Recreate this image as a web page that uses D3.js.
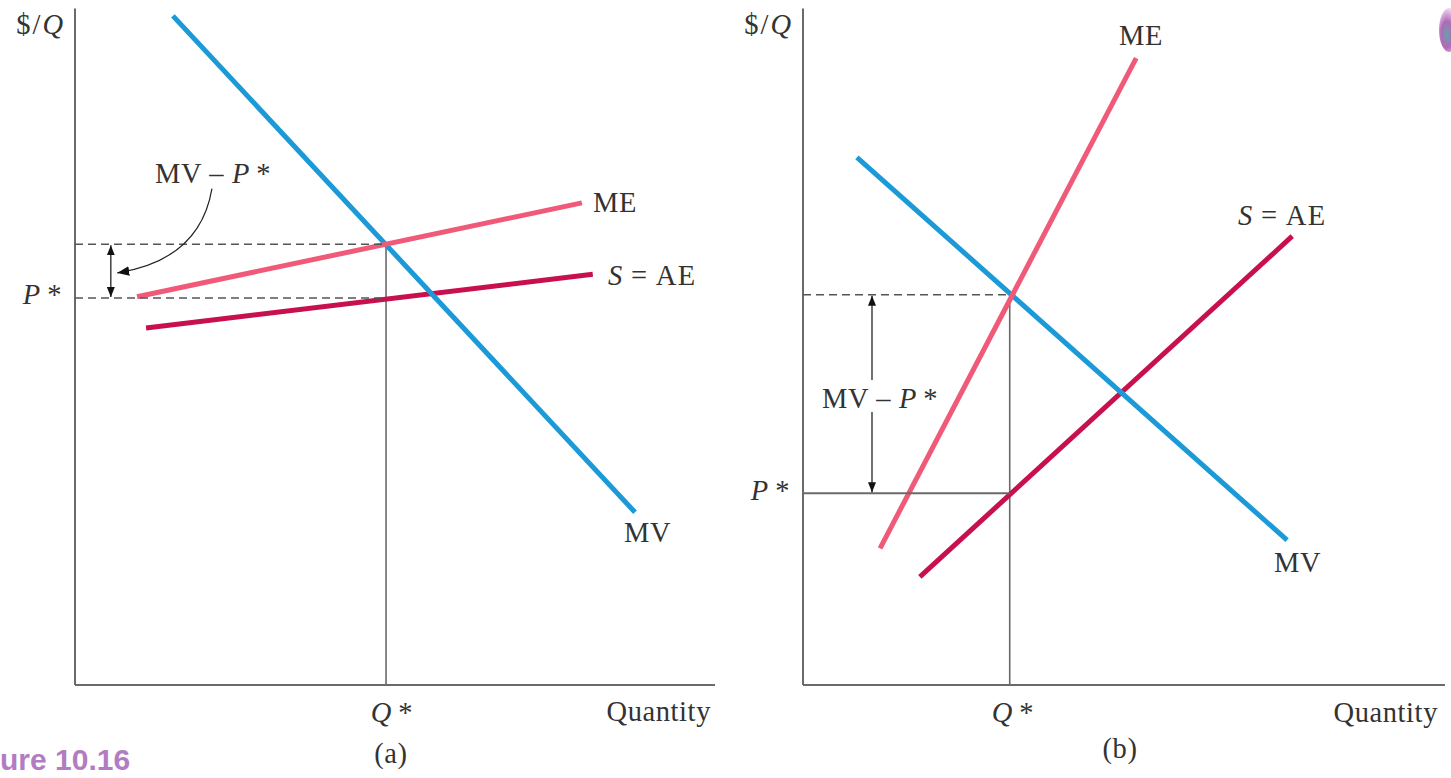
<!DOCTYPE html>
<html><head><meta charset="utf-8">
<script src="https://cdn.jsdelivr.net/npm/d3@7"></script>
<style>html,body{margin:0;padding:0;background:#fff;overflow:hidden}</style>
</head><body>
<svg id="c" width="1451" height="778"></svg>
<script>
// ---- data (axis units 0..100 in each panel) ----
const panelA_MV = [[15.3, 98.4], [87.5, 25.4]];
const panelA_ME = [[9.7, 57.1], [79.2, 70.9]];
const panelA_AE = [[11.1, 52.5], [80.9, 60.4]];
const panelA_Q = 48.6, panelA_MVatQ = 64.8, panelA_P = 56.9;

const panelB_MV = [[8.4, 77.6], [75.4, 21.3]];
const panelB_ME = [[12.0, 20.1], [51.9, 92.2]];
const panelB_AE = [[18.2, 15.9], [76.2, 66.0]];
const panelB_Q = 32.2, panelB_MVatQ = 57.4, panelB_P = 28.2;

const colMV = "#1b9ad7", colME = "#f05a78", colAE = "#c8104e";
const ink = "#333", axisCol = "#6a6a6a";
const font = "'Liberation Serif', 'Times New Roman', serif";

const svg = d3.select("#c");
const defs = svg.append("defs");
defs.append("marker").attr("id","ah").attr("viewBox","0 0 10 10").attr("refX",10).attr("refY",5)
  .attr("markerWidth",10).attr("markerHeight",10).attr("markerUnits","userSpaceOnUse").attr("orient","auto-start-reverse")
  .append("path").attr("d","M0,1 L10,5 L0,9 Z").attr("fill","#111");
defs.append("marker").attr("id","ah2").attr("viewBox","0 0 10 10").attr("refX",10).attr("refY",5)
  .attr("markerWidth",12).attr("markerHeight",12).attr("markerUnits","userSpaceOnUse").attr("orient","auto")
  .append("path").attr("d","M0,1 L10,5 L0,9 Z").attr("fill","#111");
const rg = defs.append("radialGradient").attr("id","blob").attr("cx","0.4").attr("cy","0.6").attr("r","0.6");
rg.append("stop").attr("offset","0").attr("stop-color","#6aa0a8");
rg.append("stop").attr("offset","0.5").attr("stop-color","#b06ab8");
rg.append("stop").attr("offset","1").attr("stop-color","#f0d8f0");

const yS = d3.scaleLinear().domain([0,100]).range([685, 5]);
const xA = d3.scaleLinear().domain([0,100]).range([75, 715]);
const xB = d3.scaleLinear().domain([0,100]).range([803, 1445]);

function txt(x, y, s, opts={}) {
  const t = svg.append("text").attr("x", x).attr("y", y)
    .attr("font-family", font).attr("font-size", opts.size || 28.5).attr("fill", ink)
    .attr("letter-spacing", opts.ls != null ? opts.ls : 0.6)
    .attr("text-anchor", opts.anchor || "start");
  if (Array.isArray(s)) s.forEach(p => t.append("tspan").attr("font-style", p[1] ? "italic" : "normal").text(p[0]));
  else t.text(s);
  return t;
}

function panel(x, d) {
  const g = svg.append("g");
  const line = d3.line().x(p => x(p[0])).y(p => yS(p[1]));
  g.append("line").attr("x1", x(0)).attr("x2", x(0)).attr("y1", yS(99.5)).attr("y2", yS(0)).attr("stroke", axisCol).attr("stroke-width", 2);
  g.append("line").attr("x1", x(0)).attr("x2", x(100)).attr("y1", yS(0)).attr("y2", yS(0)).attr("stroke", axisCol).attr("stroke-width", 2);
  g.append("line").attr("x1", x(d.Q)).attr("x2", x(d.Q)).attr("y1", yS(d.topQ)).attr("y2", yS(0)).attr("stroke", axisCol).attr("stroke-width", 1.6);
  [[d.AE, colAE],[d.MV, colMV],[d.ME, colME]].forEach(([pts, c]) =>
    g.append("path").attr("d", line(pts)).attr("stroke", c).attr("stroke-width", 5).attr("fill","none"));
  return g;
}

// ---- Panel (a) ----
const ga = panel(xA, {MV: panelA_MV, ME: panelA_ME, AE: panelA_AE, Q: panelA_Q, topQ: panelA_MVatQ});
ga.append("line").attr("x1", xA(0)).attr("x2", xA(panelA_Q)).attr("y1", yS(panelA_MVatQ)).attr("y2", yS(panelA_MVatQ))
  .attr("stroke", "#555").attr("stroke-width", 1.5).attr("stroke-dasharray", "8,5");
ga.append("line").attr("x1", xA(0)).attr("x2", xA(panelA_Q)).attr("y1", yS(panelA_P)).attr("y2", yS(panelA_P))
  .attr("stroke", "#555").attr("stroke-width", 1.5).attr("stroke-dasharray", "8,5");
ga.append("line").attr("x1", xA(5.6)).attr("x2", xA(5.6)).attr("y1", yS(panelA_MVatQ)+1).attr("y2", yS(panelA_P)-1)
  .attr("stroke", "#111").attr("stroke-width", 1.2).attr("marker-start","url(#ah)").attr("marker-end","url(#ah)");
ga.append("path").attr("d", `M${xA(21.4)},${yS(73.0)} Q${xA(19.5)},${yS(62.5)} ${xA(6.6)},${yS(60.6)}`)
  .attr("stroke","#222").attr("stroke-width",1.2).attr("fill","none").attr("marker-end","url(#ah2)");
txt(213, 183, [["MV – ",0],["P",1],["\u2009*",0]], {anchor:"middle"});
txt(65, 34, [["$/",0],["Q",1]], {anchor:"end", ls:2});
txt(62, yS(panelA_P)+6, [["P",1],["\u2009*",0]], {anchor:"end"});
txt(xA(panelA_Q)+6, 722, [["Q",1],["\u2009*",0]], {anchor:"middle"});
txt(711, 721, "Quantity", {anchor:"end"});
txt(391, 763, "(a)", {anchor:"middle"});
txt(593, 212, "ME");
txt(608, 285, [["S",1],["\u2009=\u2009AE",0]], {ls:1.5});
txt(624, 542, "MV");

// ---- Panel (b) ----
const gb = panel(xB, {MV: panelB_MV, ME: panelB_ME, AE: panelB_AE, Q: panelB_Q, topQ: panelB_MVatQ});
gb.append("line").attr("x1", xB(0)).attr("x2", xB(panelB_Q)).attr("y1", yS(panelB_MVatQ)).attr("y2", yS(panelB_MVatQ))
  .attr("stroke", "#555").attr("stroke-width", 1.5).attr("stroke-dasharray", "8,5");
gb.append("line").attr("x1", xB(0)).attr("x2", xB(panelB_Q)).attr("y1", yS(panelB_P)).attr("y2", yS(panelB_P))
  .attr("stroke", axisCol).attr("stroke-width", 1.8);
gb.append("line").attr("x1", 872).attr("x2", 872).attr("y1", 380).attr("y2", yS(panelB_MVatQ)+1)
  .attr("stroke", "#111").attr("stroke-width", 1.2).attr("marker-end","url(#ah)");
gb.append("line").attr("x1", 872).attr("x2", 872).attr("y1", 412).attr("y2", yS(panelB_P)-1)
  .attr("stroke", "#111").attr("stroke-width", 1.2).attr("marker-end","url(#ah)");
txt(880, 408, [["MV – ",0],["P",1],["\u2009*",0]], {anchor:"middle"});
txt(793, 34, [["$/",0],["Q",1]], {anchor:"end", ls:2});
txt(790, yS(panelB_P)+7, [["P",1],["\u2009*",0]], {anchor:"end"});
txt(1013, 722, [["Q",1],["\u2009*",0]], {anchor:"middle"});
txt(1438, 722, "Quantity", {anchor:"end"});
txt(1120, 758, "(b)", {anchor:"middle"});
txt(1119, 45, "ME");
txt(1238, 225, [["S",1],["\u2009=\u2009AE",0]], {ls:1.5});
txt(1274, 572, "MV");

// figure caption fragment and decoration
svg.append("text").attr("x", 0).attr("y", 770).attr("font-family","'Liberation Sans', Arial, sans-serif")
  .attr("font-weight","bold").attr("font-size", 30).attr("fill","#b27cc2").text("ure 10.16");
svg.append("ellipse").attr("cx", 1449).attr("cy", 30).attr("rx", 10).attr("ry", 22).attr("fill","url(#blob)");
</script>
</body></html>
